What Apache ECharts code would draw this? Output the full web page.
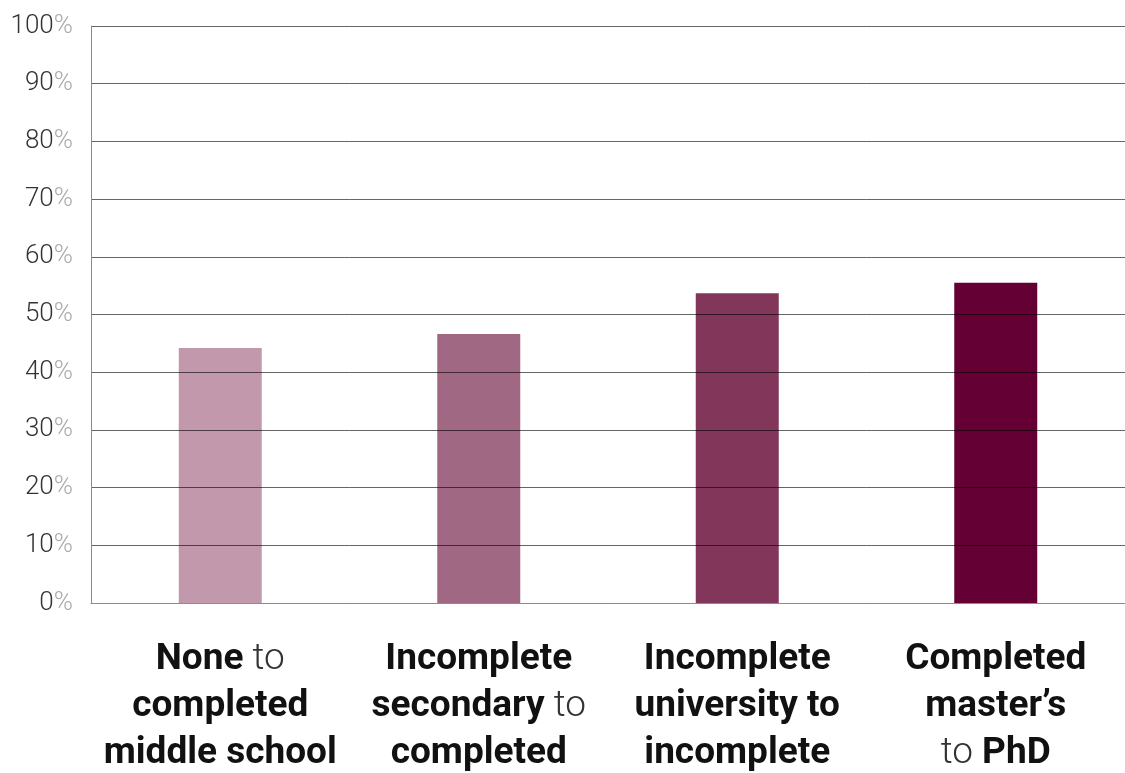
<!DOCTYPE html>
<html>
<head>
<meta charset="utf-8">
<script src="https://cdn.jsdelivr.net/npm/echarts@6/dist/echarts.min.js"></script>
<style>
  html, body { margin: 0; padding: 0; background: #fff; }
  #chart { width: 1125px; height: 773px; }
</style>
</head>
<body>
<div id="chart"></div>
<script>
// Education transitions (bold parts marked with {b|...}, light with {l|...})
const categories = [
  '{b|None }{l|to}\n{b|completed}\n{b|middle school}',
  '{b|Incomplete}\n{b|secondary }{l|to}\n{b|completed}',
  '{b|Incomplete}\n{b|university to}\n{b|incomplete}',
  '{b|Completed}\n{b|master\u2019s}\n{l|to }{b|PhD}'
];
const values = [44.2, 46.6, 53.7, 55.5];
const barColors = ['#C299AC', '#A06883', '#82375A', '#640033'];
const yTicks = { min: 0, max: 100, interval: 10 };

const chart = echarts.init(document.getElementById('chart'));
chart.setOption({
  backgroundColor: '#ffffff',
  animation: false,
  grid: { left: 91, right: 0, top: 26, bottom: 170, containLabel: false, outerBoundsMode: 'none' },
  xAxis: {
    type: 'category',
    data: categories,
    z: 11,
    axisLine: { show: true, lineStyle: { color: '#6aa84f', width: 1 } },
    axisTick: { show: false },
    axisLabel: {
      interval: 0,
      margin: 33,
      lineHeight: 47,
      align: 'center',
      hideOverlap: false,
      rich: {
        b: { fontFamily: 'Roboto', fontWeight: 'bold', fontSize: 37, color: '#111', lineHeight: 47 },
        l: { fontFamily: 'Roboto', fontWeight: 300, fontSize: 37, color: '#333', lineHeight: 47 }
      }
    }
  },
  yAxis: {
    type: 'value',
    min: yTicks.min,
    max: yTicks.max,
    interval: yTicks.interval,
    z: 10,
    axisLine: { show: true, lineStyle: { color: '#6aa84f', width: 1 } },
    axisTick: { show: false },
    splitLine: { show: true, lineStyle: { color: 'rgba(0,0,0,0.6)', width: 1 } },
    axisLabel: {
      margin: 18,
      formatter: v => '{n|' + v + '}{p|%}',
      rich: {
        n: { fontFamily: 'Roboto', fontWeight: 300, fontSize: 26, color: '#333' },
        p: { fontFamily: 'Roboto', fontWeight: 300, fontSize: 26, color: '#aaa' }
      }
    }
  },
  series: [{
    type: 'bar',
    barWidth: 83,
    data: values.map((v, i) => ({ value: v, itemStyle: { color: barColors[i] } }))
  }]
});
</script>
</body>
</html>
